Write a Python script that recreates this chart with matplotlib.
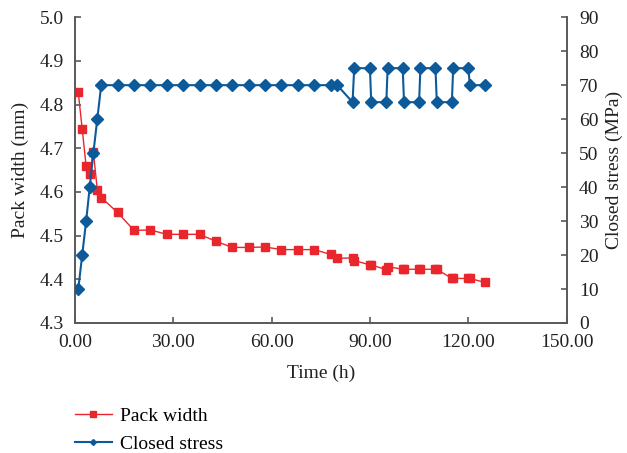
import numpy as np
import matplotlib.pyplot as plt
from matplotlib.lines import Line2D

plt.rcParams['font.family'] = ['Liberation Serif', 'DejaVu Serif']

# Tempo (h)
time_h = [1, 2.2, 3.4, 4.5, 5.6, 6.8, 8, 13, 18, 23, 28, 33, 38, 43, 48, 53, 58,
          63, 68, 73, 78, 80, 84.7, 85.2, 90, 90.4, 95, 95.4, 100, 100.4, 105,
          105.4, 110, 110.4, 115, 115.4, 120, 120.5, 125]

pack_width = [4.828, 4.744, 4.659, 4.642, 4.692, 4.605, 4.587, 4.553, 4.512,
              4.513, 4.503, 4.503, 4.503, 4.487, 4.473, 4.473, 4.474, 4.468,
              4.468, 4.468, 4.457, 4.448, 4.449, 4.443, 4.433, 4.433, 4.422,
              4.429, 4.423, 4.423, 4.423, 4.423, 4.423, 4.423, 4.402, 4.402,
              4.402, 4.402, 4.393]

closed_stress = [10, 20, 30, 40, 50, 60, 70, 70, 70, 70, 70, 70, 70, 70, 70, 70,
                 70, 70, 70, 70, 70, 70, 65, 75, 75, 65, 65, 75, 75, 65, 65, 75,
                 75, 65, 65, 75, 75, 70, 70]

x_ticks = [0, 30, 60, 90, 120, 150]

red = '#E8262B'
blue = '#0D5A9A'
axis_color = '#595959'

fig = plt.figure(figsize=(6.27, 4.53), dpi=100)
ax = fig.add_axes([0.1196, 0.287, 0.784, 0.675])
ax2 = ax.twinx()

ax.plot(time_h, pack_width, color=red, lw=1.0, marker='s', ms=6,
        markerfacecolor=red, markeredgecolor=red, zorder=3)
ax2.plot(time_h, closed_stress, color=blue, lw=1.5, marker='D', ms=6,
         markerfacecolor=blue, markeredgecolor=blue, zorder=3)

ax.set_xlim(0, 150)
ax.set_ylim(4.3, 5.0)
ax2.set_ylim(0, 90)
ax.set_xticks(x_ticks)
ax.set_xticklabels([f'{t:.2f}' for t in x_ticks])
ax.set_yticks(np.arange(4.3, 5.01, 0.1))
ax.set_yticklabels([f'{v:.1f}' for v in np.arange(4.3, 5.01, 0.1)])
ax2.set_yticks(range(0, 91, 10))

for a in (ax, ax2):
    a.spines['top'].set_visible(False)
    for s in a.spines.values():
        s.set_color(axis_color)
        s.set_linewidth(1.2)
    a.tick_params(direction='in', length=4, color=axis_color, labelsize=14,
                  labelcolor='#222222', width=1.2)
ax.tick_params(axis='y', pad=8)
ax.tick_params(axis='x', pad=8)
ax2.tick_params(axis='y', pad=9)

ax.set_xlabel('Time (h)', fontsize=14, color='#222222', labelpad=10)
ax.set_ylabel('Pack width (mm)', fontsize=14, color='#222222', labelpad=8)
ax2.set_ylabel('Closed stress (MPa)', fontsize=14, color='#222222', labelpad=5)

handles = [Line2D([0], [0], color=red, lw=1.0, marker='s', ms=5),
           Line2D([0], [0], color=blue, lw=1.5, marker='D', ms=3)]
ax.legend(handles=handles, labels=['Pack width', 'Closed stress'],
          loc='upper left', bbox_to_anchor=(0.0, -0.275), frameon=False,
          fontsize=14, borderpad=0, borderaxespad=0, handlelength=1.9,
          handletextpad=0.4, labelspacing=0.55)

fig.savefig('out.png', dpi=100)
